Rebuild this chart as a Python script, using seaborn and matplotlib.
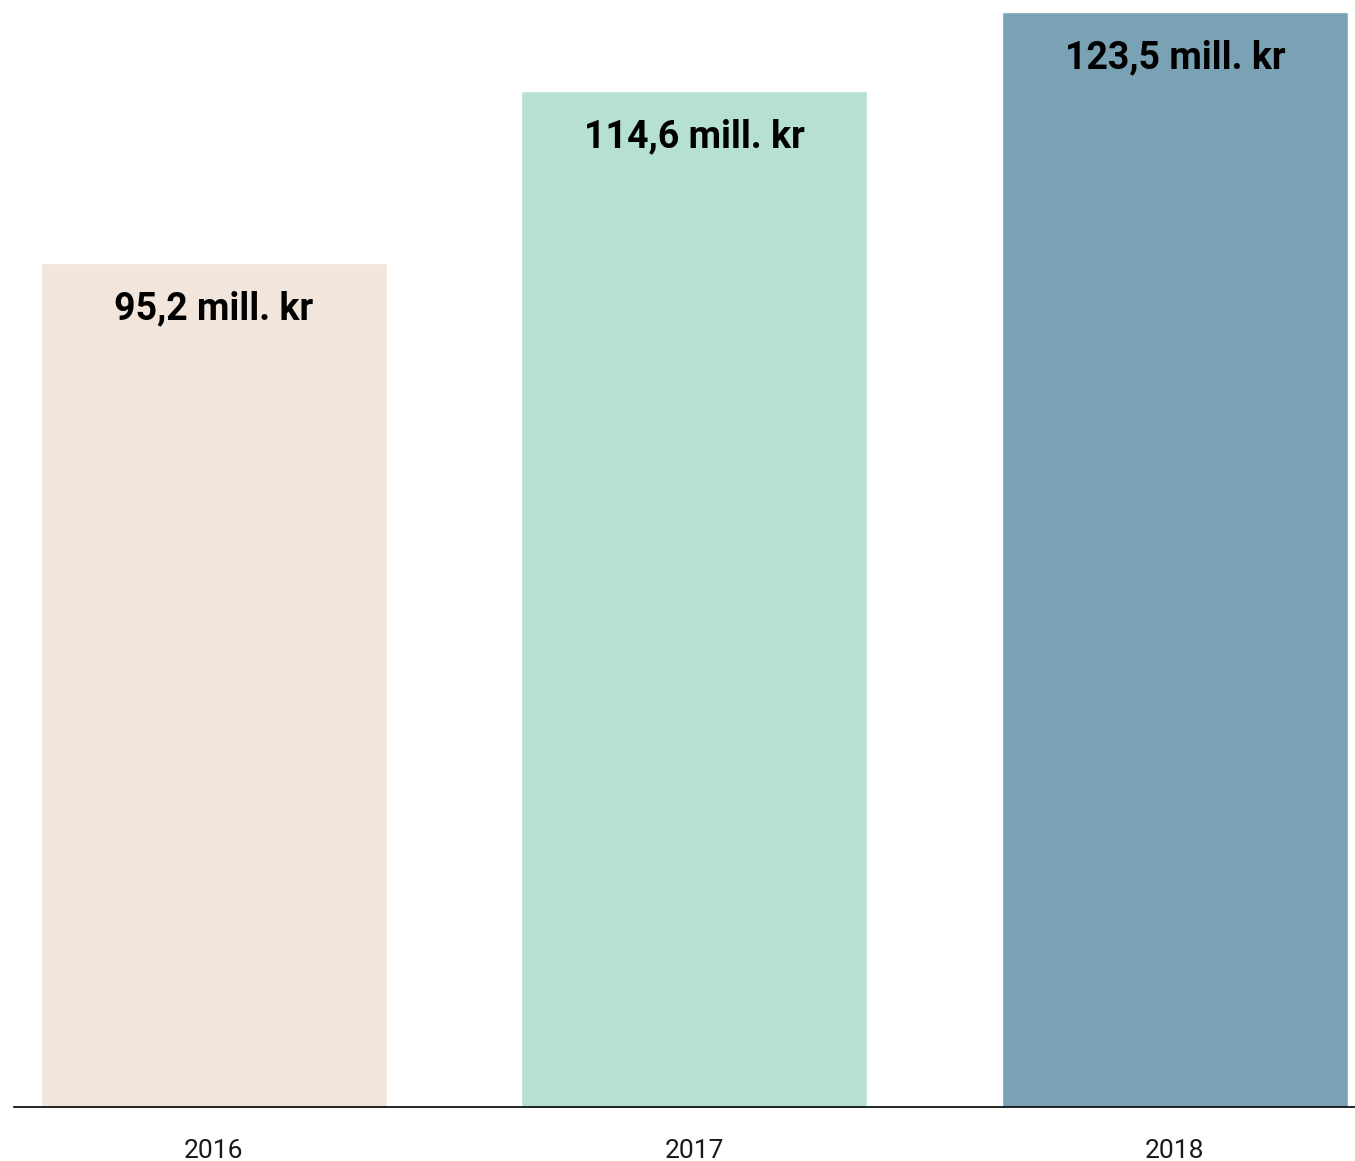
import matplotlib
matplotlib.use("Agg")
import seaborn as sns
import matplotlib.pyplot as plt

years = ["2016", "2017", "2018"]
values = [95.2, 114.6, 123.5]
labels = ["95,2 mill. kr", "114,6 mill. kr", "123,5 mill. kr"]
colors = ["#F2E6DC", "#B7E0D5", "#79A2B4"]

sns.set_theme(style="white")
plt.rcParams['font.family'] = ['Roboto', 'DejaVu Sans']

fig = plt.figure(figsize=(13.55, 11.61), dpi=100)
ax = fig.add_axes([14 / 1355, 54 / 1161, 1341 / 1355, 1107 / 1161])

sns.barplot(x=years, y=values, hue=years, palette=colors, saturation=1,
            width=0.72, legend=False, ax=ax)

for i, (v, lab) in enumerate(zip(values, labels)):
    ax.annotate(lab, (i, v), xytext=(0, -33), textcoords="offset points",
                ha="center", va="center", fontsize=27, fontweight="bold",
                color="black")

ax.set_xlim(-0.416, 2.375)
ax.set_ylim(0, 124.86)
ax.set_yticks([])
ax.set_xlabel("")
ax.set_ylabel("")
sns.despine(ax=ax, left=True, right=True, top=True)
ax.spines["bottom"].set_color("black")
ax.spines["bottom"].set_linewidth(1.2)
ax.tick_params(axis="x", length=0, pad=23, labelsize=19, labelcolor="#1a1a1a")

fig.savefig("out.png", dpi=100)
